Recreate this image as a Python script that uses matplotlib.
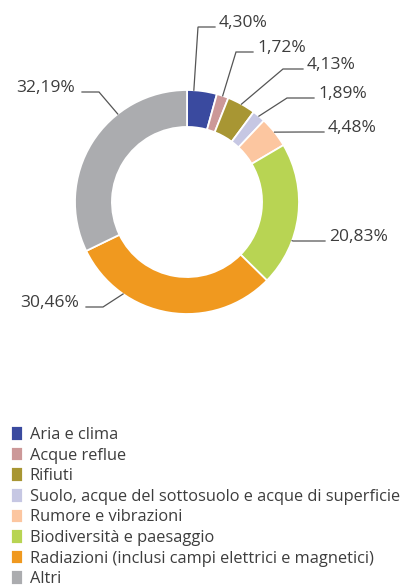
import numpy as np
import matplotlib.pyplot as plt

plt.rcParams['font.family'] = ['Open Sans', 'DejaVu Sans']

# data
categories = ["Aria e clima", "Acque reflue", "Rifiuti",
              "Suolo, acque del sottosuolo e acque di superficie",
              "Rumore e vibrazioni", "Biodiversità e paesaggio",
              "Radiazioni (inclusi campi elettrici e magnetici)", "Altri"]
values = [4.30, 1.72, 4.13, 1.89, 4.48, 20.83, 30.46, 32.19]
labels = ["4,30%", "1,72%", "4,13%", "1,89%", "4,48%", "20,83%", "30,46%", "32,19%"]
colors = ["#3a4a9f", "#cc9898", "#a89633", "#c6c7e3", "#fcc6a0",
          "#b8d453", "#f0991f", "#abacaf"]

# label layout: anchor angle on ring (None = wedge middle), elbow x/y and line end x in pixels
anchor_ang = [86.5, None, None, None, None, -20.2, -124.8, 128.2]
elbows = [(198, 27, 215), (236, 52, 253), (283, 69, 303), (287, 98, 314),
          (303, 132, 324), (293, 241, 325), (103, 307, 86), (99, 92, 82)]

txtc = "#3d3d3d"
W, H = 406, 586
cx, cy, R = 187, 202, 112

fig = plt.figure(figsize=(W / 100, H / 100), dpi=100)
ax = fig.add_axes([(cx - R) / W, (H - cy - R) / H, 2 * R / W, 2 * R / H])
wedges, _ = ax.pie(values, colors=colors, startangle=90, counterclock=False,
                   radius=1, wedgeprops=dict(width=0.33, edgecolor="white", linewidth=1.3))
ax.set_xlim(-1, 1)
ax.set_ylim(-1, 1)
ax.set_aspect("equal")
ax.axis("off")


def px(x, y):
    return (x - cx) / R, (cy - y) / R


for w, lab, aa, (ex, ey, lx) in zip(wedges, labels, anchor_ang, elbows):
    if aa is None:
        aa = (w.theta1 + w.theta2) / 2
    ang = np.deg2rad(aa)
    ax0, ay0 = 1.0 * np.cos(ang), 1.0 * np.sin(ang)
    bx, by = px(ex, ey)
    endx, _ = px(lx, ey)
    ax.plot([ax0, bx, endx], [ay0, by, by], color="#555555", lw=0.9,
            clip_on=False, solid_joinstyle="miter")
    if endx > bx:
        ax.text(endx + 4 / R, by, lab, ha="left", va="baseline",
                fontsize=12.5, color=txtc)
    else:
        ax.text(endx - 7 / R, by, lab, ha="right", va="baseline",
                fontsize=12.5, color=txtc)

fig.legend(wedges, categories, loc="upper left", bbox_to_anchor=(11 / W, 1 - 426 / H),
           frameon=False, fontsize=11.8, handlelength=0.75, handleheight=1.0,
           handletextpad=0.4, labelspacing=0.225, borderpad=0, borderaxespad=0,
           labelcolor=txtc)

fig.savefig("out.png", dpi=100)
